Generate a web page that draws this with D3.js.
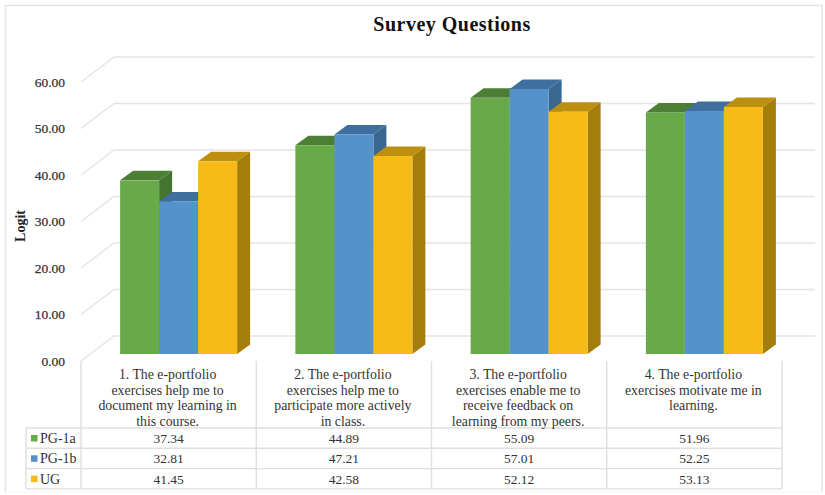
<!DOCTYPE html>
<html>
<head>
<meta charset="utf-8">
<script src="https://cdn.jsdelivr.net/npm/d3@7"></script>
<style>
html,body{margin:0;padding:0;background:#fff}
svg{display:block}
text{font-family:"Liberation Serif",serif;fill:#333}
</style>
</head>
<body>
<div id="chart"></div>
<script>
const questions = [
  ["1. The e-portfolio","exercises help me to","document my learning in","this course."],
  ["2. The e-portfolio","exercises help me to","participate more actively","in class."],
  ["3. The e-portfolio","exercises enable me to","receive feedback on","learning from my peers."],
  ["4. The e-portfolio","exercises motivate me in","learning."]
];
const seriesNames = ["PG-1a","PG-1b","UG"];
const pg1a = [37.34,44.89,55.09,51.96];
const pg1b = [32.81,47.21,57.01,52.25];
const ug = [41.45,42.58,52.12,53.13];
const seriesValues = [pg1a,pg1b,ug];
const faceColors = ["#68a94a","#5592cc","#f6bb17"];
const topColors = ["#4c7f35","#3f6f9f","#bd8f0e"];
const sideColors = ["#457330","#386790","#a47d0b"];
const yTicks = [0,10,20,30,40,50,60];

const width = 825, height = 495;
const svg = d3.select("#chart").append("svg").attr("width",width).attr("height",height);

// Outer chart frame: bottom edge is fainter than the others
svg.append("path").attr("d","M5.5,492V5.5H822V492").attr("fill","none")
  .attr("stroke","#e6e3e4").attr("stroke-width",1.5);
svg.append("path").attr("d","M5.5,492H822").attr("fill","none")
  .attr("stroke","#f5f4f4").attr("stroke-width",1);

// Front plane of the plot; the bars sit part way into the depth
const frontLeft = 81, frontRight = 782, frontBase = 361;
const wallDx = 33, wallDy = -25;
const barShiftX = 10, barShiftY = -7;
const depthDx = 13, depthDy = -9.5;

const y = d3.scaleLinear().domain([0,60]).range([frontBase,frontBase-279]);
const x = d3.scaleBand().domain(d3.range(questions.length)).range([frontLeft,frontRight]);
const barW = 39;
const xSeries = d3.scaleBand().domain(d3.range(seriesNames.length))
  .range([-barW*1.5,barW*1.5]);

// Gridlines: floor edge plus back wall
const grid = svg.append("g").attr("fill","none").attr("stroke","#e6e3e3").attr("stroke-width",1.4);
yTicks.forEach(t=>{
  grid.append("path").attr("d",
    `M${frontLeft},${y(t)}L${frontLeft+wallDx},${y(t)+wallDy}L${frontRight+wallDx},${y(t)+wallDy}`);
});

// Value axis labels
svg.append("g").selectAll("text").data(yTicks).join("text")
  .attr("x",65).attr("y",d=>y(d)+4.5).attr("text-anchor","end")
  .attr("font-size",13.5).style("fill","#333").style("stroke","#333").style("stroke-width",0.25)
  .text(d=>d3.format(".2f")(d));

svg.append("text").attr("transform","translate(25,226) rotate(-90)")
  .attr("text-anchor","middle").attr("font-size",14).attr("font-weight","bold").style("fill","#222")
  .text("Logit");

svg.append("text").attr("x",452).attr("y",31).attr("text-anchor","middle")
  .attr("font-size",20).attr("font-weight","bold").style("fill","#111").style("letter-spacing","0.5px")
  .text("Survey Questions");

// 3-D bars: side and top faces first, then the front, drawn left to right
const bars = svg.append("g");
questions.forEach((q,c)=>{
  seriesValues.forEach((vals,s)=>{
    const v = vals[c];
    const x0 = x(c)+x.bandwidth()/2+xSeries(s)+barShiftX;
    const x1 = x0+barW;
    const yt = y(v)+barShiftY, yb = y(0)+barShiftY;
    const g = bars.append("g");
    g.append("path").attr("fill",sideColors[s])
      .attr("d",`M${x1},${yt}L${x1+depthDx},${yt+depthDy}L${x1+depthDx},${yb+depthDy}L${x1},${yb}Z`);
    g.append("path").attr("fill",topColors[s])
      .attr("d",`M${x0},${yt}L${x0+depthDx},${yt+depthDy}L${x1+depthDx},${yt+depthDy}L${x1},${yt}Z`);
    g.append("rect").attr("x",x0).attr("y",yt).attr("width",barW).attr("height",yb-yt)
      .attr("fill",faceColors[s]);
  });
});

// Data table below the plot
const tableLeft = 26, rowTop = 428, rowH = 20.3;
const rowY = d3.scaleLinear().domain([0,3]).range([rowTop,rowTop+3*rowH]);
const lines = svg.append("g").attr("stroke","#e0dfdf").attr("stroke-width",1.4);
d3.range(4).forEach(i=>{
  lines.append("line").attr("x1",tableLeft).attr("x2",frontRight).attr("y1",rowY(i)).attr("y2",rowY(i));
});
lines.append("line").attr("x1",tableLeft).attr("x2",tableLeft).attr("y1",rowTop).attr("y2",rowY(3));
d3.range(5).forEach(i=>{
  const xv = frontLeft+i*x.bandwidth();
  lines.append("line").attr("x1",xv).attr("x2",xv).attr("y1",frontBase).attr("y2",rowY(3));
});

questions.forEach((q,c)=>{
  const cx = x(c)+x.bandwidth()/2;
  q.forEach((ln,i)=>{
    svg.append("text").attr("x",cx-1).attr("y",379+i*15.6).attr("text-anchor","middle")
      .attr("font-size",13.8).text(ln);
  });
  seriesValues.forEach((vals,s)=>{
    svg.append("text").attr("x",cx).attr("y",rowY(s)+15).attr("text-anchor","middle")
      .attr("font-size",13.5).text(d3.format(".2f")(vals[c]));
  });
});

seriesNames.forEach((n,s)=>{
  svg.append("rect").attr("x",31).attr("y",rowY(s)+7).attr("width",6.5).attr("height",6.5).attr("fill",faceColors[s]);
  svg.append("text").attr("x",40).attr("y",rowY(s)+15).attr("font-size",14).text(n);
});
</script>
</body>
</html>
